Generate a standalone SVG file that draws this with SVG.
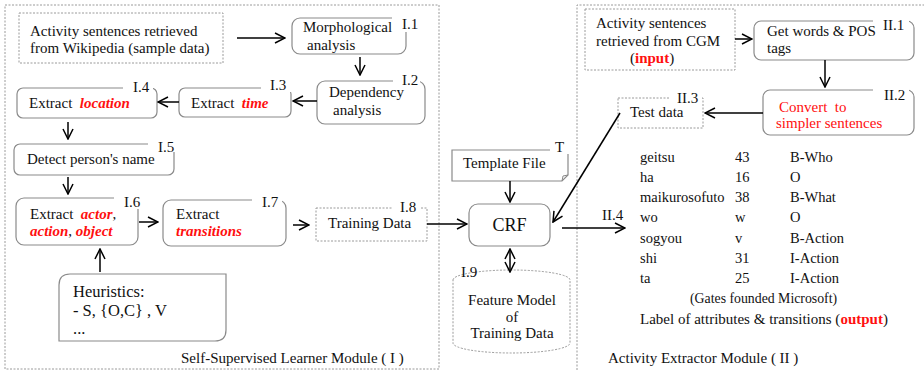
<svg xmlns="http://www.w3.org/2000/svg" width="924" height="370" viewBox="0 0 924 370">
<defs>
<marker id="ah" viewBox="0 0 12 12" refX="11" refY="6" markerWidth="12" markerHeight="12" markerUnits="userSpaceOnUse" orient="auto-start-reverse">
<path d="M1,1 L11,6 L1,11" fill="none" stroke="#000" stroke-width="1.5"/>
</marker>
</defs>
<style>
text{font-family:"Liberation Serif","Times New Roman",serif;font-size:15px;fill:#111}
.t{font-size:14.5px}
.sm{font-size:13.8px}
.big{font-size:18px}
.h{font-size:16.5px}
.red{fill:#ff1010}
.rb{fill:#ff1010;font-weight:bold;font-style:italic}
.rbn{fill:#ff1010;font-weight:bold}
.box{fill:#fff;stroke:#8a8a8a;stroke-width:1.2}
.dot{fill:#fff;stroke:#9a9a9a;stroke-width:1;stroke-dasharray:2 1.5}
.mod{fill:none;stroke:#9a9a9a;stroke-width:1;stroke-dasharray:2 1.5}
.lb{fill:#fff;stroke:none}
.c line,.c path{stroke:#000;stroke-width:1.5;fill:none;marker-end:url(#ah)}
</style>
<rect width="924" height="370" fill="#fff"/>
<g id="modules">
<rect class="mod" x="5" y="5" width="434" height="364"/>
<path class="mod" d="M577,370 L577,5 L924,5"/>
<text x="181" y="363">Self-Supervised Learner Module ( I )</text>
<text x="608" y="363">Activity Extractor Module ( II )</text>
</g>
<g id="wiki">
<rect class="dot" x="19" y="13" width="204" height="50"/>
<text x="30" y="36">Activity sentences retrieved</text>
<text x="30" y="53">from Wikipedia (sample data)</text>
</g>
<g id="morph">
<rect class="box" x="292" y="18" width="114" height="36" rx="8"/>
<rect class="lb" x="392" y="12" width="28" height="20"/>
<text x="303" y="32">Morphological</text>
<text x="307" y="50">analysis</text>
<text x="402" y="29">I.1</text>
</g>
<g id="dep">
<rect class="box" x="317" y="81" width="108" height="43" rx="8"/>
<rect class="lb" x="393" y="72" width="27" height="14"/>
<text x="329" y="97">Dependency</text>
<text x="333" y="115">analysis</text>
<text x="402" y="85">I.2</text>
</g>
<g id="time">
<rect class="box" x="179" y="88" width="112" height="29" rx="6"/>
<rect class="lb" x="261" y="78" width="30" height="14"/>
<text x="191" y="108">Extract&#160; <tspan class="rb">time</tspan></text>
<text x="270" y="90">I.3</text>
</g>
<g id="location">
<rect class="box" x="17" y="88" width="140" height="30" rx="6"/>
<rect class="lb" x="123" y="80" width="30" height="14"/>
<text x="29" y="108">Extract&#160; <tspan class="rb">location</tspan></text>
<text x="133" y="92">I.4</text>
</g>
<g id="person">
<rect class="box" x="14" y="144" width="160" height="31" rx="6"/>
<rect class="lb" x="148" y="138" width="30" height="14"/>
<text x="27" y="164">Detect person's name</text>
<text x="158" y="152">I.5</text>
</g>
<g id="actor">
<rect class="box" x="16" y="198" width="122" height="47" rx="8"/>
<rect class="lb" x="114" y="193" width="30" height="16"/>
<text x="30" y="219">Extract&#160; <tspan class="rb">actor</tspan>,</text>
<text x="30" y="236"><tspan class="rb">action</tspan>, <tspan class="rb">object</tspan></text>
<text x="124" y="207">I.6</text>
</g>
<g id="transitions">
<rect class="box" x="163" y="200" width="123" height="46" rx="8"/>
<rect class="lb" x="252" y="193" width="30" height="14"/>
<text x="176" y="219">Extract</text>
<text x="176" y="236" class="rb">transitions</text>
<text x="262" y="207">I.7</text>
</g>
<g id="heuristics">
<path class="box" d="M59,341 L59,285 Q59,274 70,274 L226,274 L226,330 Q226,341 215,341 Z"/>
<text x="73" y="297" class="h">Heuristics:</text>
<text x="73" y="316" class="h">- S, {O,C} , V</text>
<text x="73" y="334" class="h">...</text>
</g>
<g id="training">
<rect class="dot" x="316" y="208" width="111" height="33"/>
<rect class="lb" x="392" y="198" width="28" height="14"/>
<text x="328" y="228">Training Data</text>
<text x="400" y="212">I.8</text>
</g>
<g id="template">
<path class="box" d="M452,150 L568,150 L568,175 L562,181 L452,181 Z"/>
<path d="M562,181 L563,176 L568,175" fill="none" stroke="#8a8a8a" stroke-width="1"/>
<rect class="lb" x="550" y="140" width="20" height="14"/>
<text x="463" y="168">Template File</text>
<text x="555" y="152">T</text>
</g>
<g id="crf">
<rect class="box" x="469" y="204" width="81" height="42" rx="9"/>
<text x="509.5" y="231" text-anchor="middle" class="big">CRF</text>
</g>
<g id="feature">
<path class="dot" d="M453,280 A58.5,10 0 0 1 570,280 L570,343 A58.5,10 0 0 1 453,343 Z"/>
<text x="461" y="277">I.9</text>
<text x="512" y="305" text-anchor="middle">Feature Model</text>
<text x="512" y="322" text-anchor="middle">of</text>
<text x="512" y="338" text-anchor="middle">Training Data</text>
</g>
<g id="cgm">
<rect class="dot" x="585" y="9" width="150" height="61"/>
<text x="596" y="28">Activity sentences</text>
<text x="596" y="46">retrieved from CGM</text>
<text x="630" y="63">(<tspan class="rbn">input</tspan>)</text>
</g>
<g id="getwords">
<rect class="box" x="754" y="21" width="160" height="39" rx="7"/>
<rect class="lb" x="873" y="12" width="36" height="18"/>
<text x="767" y="36">Get words &amp; POS</text>
<text x="767" y="53">tags</text>
<text x="883" y="30">II.1</text>
</g>
<g id="convert">
<rect class="box" x="763" y="90" width="151" height="45" rx="7"/>
<rect class="lb" x="873" y="82" width="36" height="20"/>
<text x="779" y="112" class="red">Convert&#160; to</text>
<text x="776" y="128" class="red">simpler sentences</text>
<text x="884" y="100">II.2</text>
</g>
<g id="testdata">
<rect class="dot" x="618" y="98" width="85" height="30"/>
<rect class="lb" x="670" y="90" width="32" height="14"/>
<text x="630" y="117">Test data</text>
<text x="677" y="103">II.3</text>
</g>
<g id="output">
<text x="640" y="162" class="t">geitsu</text><text x="735" y="162" class="t">43</text><text x="790" y="162" class="t">B-Who</text>
<text x="640" y="182" class="t">ha</text><text x="735" y="182" class="t">16</text><text x="790" y="182" class="t">O</text>
<text x="640" y="202" class="t">maikurosofuto</text><text x="735" y="202" class="t">38</text><text x="790" y="202" class="t">B-What</text>
<text x="640" y="222" class="t">wo</text><text x="735" y="222" class="t">w</text><text x="790" y="222" class="t">O</text>
<text x="640" y="243" class="t">sogyou</text><text x="735" y="243" class="t">v</text><text x="790" y="243" class="t">B-Action</text>
<text x="640" y="263" class="t">shi</text><text x="735" y="263" class="t">31</text><text x="790" y="263" class="t">I-Action</text>
<text x="640" y="283" class="t">ta</text><text x="735" y="283" class="t">25</text><text x="790" y="283" class="t">I-Action</text>
<text x="690" y="303" class="sm">(Gates founded Microsoft)</text>
<text x="640" y="324">Label of attributes &amp; transitions (<tspan class="rbn">output</tspan>)</text>
</g>
<g id="connectors" class="c">
<line x1="237" y1="38" x2="285" y2="38"/>
<line x1="360" y1="57" x2="360" y2="75"/>
<line x1="317" y1="101" x2="293" y2="101"/>
<line x1="179" y1="102" x2="158" y2="102"/>
<line x1="68" y1="122" x2="68" y2="139"/>
<line x1="68" y1="177" x2="68" y2="194"/>
<line x1="139" y1="222" x2="158" y2="222"/>
<line x1="293" y1="225" x2="309" y2="225"/>
<line x1="100" y1="272" x2="100" y2="249"/>
<line x1="427" y1="224" x2="467" y2="224"/>
<line x1="510" y1="181" x2="510" y2="202"/>
<line x1="510" y1="249" x2="510" y2="272" style="marker-start:url(#ah)"/>
<line x1="620" y1="113" x2="553" y2="222"/>
<line x1="562" y1="228" x2="625" y2="228"/>
<line x1="735" y1="39" x2="752" y2="39"/>
<line x1="825" y1="60" x2="825" y2="87"/>
<line x1="763" y1="113" x2="705" y2="113"/>
</g>
<text x="602" y="220">II.4</text>
</svg>
